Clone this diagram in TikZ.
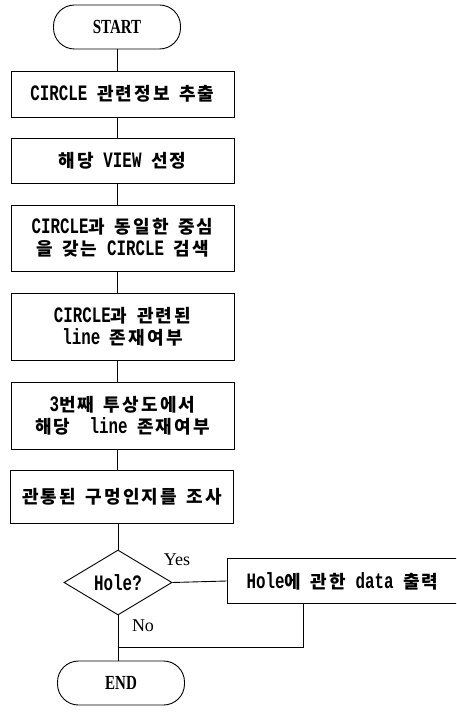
\documentclass[tikz,border=0pt]{standalone}
\usepackage{fontspec}
\setmainfont{Liberation Serif}
\setmonofont[FakeStretch=0.72]{Liberation Mono}
\newfontfamily\kr[LetterSpace=12]{Noto Sans CJK KR}
\newfontfamily\cond[FakeStretch=0.75]{Liberation Serif}
\usetikzlibrary{shapes.geometric}
\newcommand\K[1]{{\kr\bfseries\fontsize{18}{22}\selectfont #1}}
\begin{document}
\begin{tikzpicture}[x=1pt,y=-1pt,
  box/.style={draw,line width=0.9pt,minimum width=223pt,align=center,inner sep=0pt,font=\ttfamily\bfseries\fontsize{22}{22}\selectfont},
  term/.style={draw,line width=0.9pt,rounded corners=21pt,minimum width=127pt,minimum height=44pt,font=\cond\bfseries\fontsize{20}{22}\selectfont},
  conn/.style={line width=0.9pt},
  lbl/.style={font=\fontsize{18}{18}\selectfont}]
\useasboundingbox (0,0) rectangle (456,714);
\clip (0,0) rectangle (456,714);
\node[term] (start) at (117,27) {START};
\node[box,minimum height=46pt] (b1) at (122.5,94) {CIRCLE \K{관련정보} \K{추출}};
\node[box,minimum height=45pt] (b2) at (122.5,160.5) {\K{해당} VIEW \K{선정}};
\node[box,minimum height=66pt] (b3) at (122.5,238) {CIRCLE\K{과} \K{동일한} \K{중심}\\\K{을} \K{갖는} CIRCLE \K{검색}};
\node[box,minimum height=67pt] (b4) at (122.5,326.5) {CIRCLE\K{과} \K{관련된}\\line \K{존재여부}};
\node[box,minimum height=67pt] (b5) at (122.5,415.5) {3\K{번째} \K{투상도에서}\\\K{해당}\ \ line \K{존재여부}};
\node[box,minimum height=53pt] (b6) at (122,496.5) {\K{관통된} \K{구멍인지를} \K{조사}};
\node[diamond,draw,line width=0.9pt,minimum width=108pt,minimum height=65pt,aspect=1.66,inner sep=0pt,font=\ttfamily\bfseries\fontsize{22}{22}\selectfont] (dia) at (118,582.5) {Hole?};
\node[box,minimum width=231pt,minimum height=45pt] (hole) at (342.5,581) {Hole\K{에} \K{관한} data \K{출력}};
\node[term] (end) at (121,683) {END};
\node[lbl] (yes) at (177,560) {Yes};
\node[lbl] (no) at (143,626) {No};
\coordinate (j) at (118,647);
\draw[conn] (start.south) -- (start.south |- b1.north);
\foreach \a/\b in {b1/b2,b2/b3,b3/b4,b4/b5,b5/b6}
  \draw[conn] (\a.south -| start) -- (\b.north -| start);
\draw[conn] (b6.south -| dia) -- (dia.north);
\draw[conn] (dia.east) -- (hole.west);
\draw[conn] ([xshift=-39.5pt]hole.south) |- (j);
\draw[conn] (dia.south) -- (dia.south |- end.north);
\end{tikzpicture}
\end{document}
